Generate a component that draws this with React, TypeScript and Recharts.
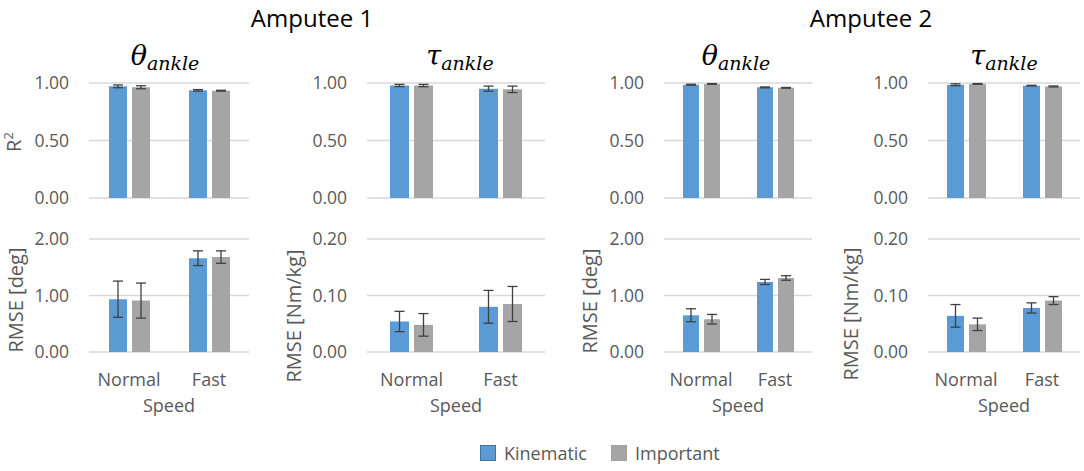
import React from "react";
import { BarChart, Bar, XAxis, YAxis, CartesianGrid, ErrorBar } from "recharts";

const BLUE = "#5b9bd5";
const GRAY = "#a5a5a5";
const TEXT = "#595959";
const FONT = "'Open Sans', sans-serif";

const speeds = ["Normal", "Fast"];

// R² (top row), [Normal, Fast]
const a1ThetaR2Kin = [0.971, 0.936];
const a1ThetaR2KinErr = [0.012, 0.007];
const a1ThetaR2Imp = [0.963, 0.933];
const a1ThetaR2ImpErr = [0.013, 0.004];

const a1TauR2Kin = [0.978, 0.951];
const a1TauR2KinErr = [0.01, 0.022];
const a1TauR2Imp = [0.978, 0.945];
const a1TauR2ImpErr = [0.01, 0.028];

const a2ThetaR2Kin = [0.985, 0.962];
const a2ThetaR2KinErr = [0.004, 0.004];
const a2ThetaR2Imp = [0.992, 0.958];
const a2ThetaR2ImpErr = [0.003, 0.003];

const a2TauR2Kin = [0.985, 0.977];
const a2TauR2KinErr = [0.008, 0.003];
const a2TauR2Imp = [0.992, 0.97];
const a2TauR2ImpErr = [0.003, 0.004];

// RMSE (bottom row)
const a1ThetaRmseKin = [0.935, 1.66];
const a1ThetaRmseKinErr = [0.32, 0.13];
const a1ThetaRmseImp = [0.91, 1.68];
const a1ThetaRmseImpErr = [0.31, 0.11];

const a1TauRmseKin = [0.054, 0.08];
const a1TauRmseKinErr = [0.018, 0.029];
const a1TauRmseImp = [0.048, 0.085];
const a1TauRmseImpErr = [0.02, 0.031];

const a2ThetaRmseKin = [0.65, 1.24];
const a2ThetaRmseKinErr = [0.115, 0.045];
const a2ThetaRmseImp = [0.58, 1.31];
const a2ThetaRmseImpErr = [0.085, 0.04];

const a2TauRmseKin = [0.064, 0.078];
const a2TauRmseKinErr = [0.02, 0.009];
const a2TauRmseImp = [0.049, 0.091];
const a2TauRmseImpErr = [0.011, 0.007];

const r2Ticks = [0, 0.5, 1];
const degTicks = [0, 1, 2];
const nmTicks = [0, 0.1, 0.2];

const rows = (kin: number[], kinErr: number[], imp: number[], impErr: number[]) =>
  speeds.map((speed, j) => ({ speed, kin: kin[j], kinErr: kinErr[j], imp: imp[j], impErr: impErr[j] }));

const Y_W = 60;
const PAD = 16;

function Panel({ plotLeft, plotRight, plotTop, plotBottom, data, ticks, barSize, showX }: any) {
  const plotW = plotRight - plotLeft;
  const plotH = plotBottom - plotTop;
  const xH = 50;
  return (
    <div style={{ position: "absolute", left: plotLeft - Y_W, top: plotTop - PAD }}>
      <BarChart
        width={plotW + Y_W}
        height={plotH + PAD + (showX ? xH : PAD)}
        data={data}
        margin={{ top: PAD, right: 0, bottom: showX ? 0 : PAD, left: 0 }}
        barSize={barSize}
        barGap={5}
        style={{ overflow: "visible" }}
      >
        <CartesianGrid vertical={false} stroke="#d9d9d9" strokeWidth={1.3} />
        <XAxis
          dataKey="speed"
          hide={!showX}
          height={xH}
          axisLine={false}
          tickLine={false}
          tickMargin={15}
          tick={{ fontSize: 18, fill: TEXT, fontFamily: FONT }}
        />
        <YAxis
          width={Y_W}
          domain={[ticks[0], ticks[ticks.length - 1]]}
          ticks={ticks}
          interval={0}
          axisLine={false}
          tickLine={false}
          tickMargin={14}
          tickFormatter={(v: number) => v.toFixed(2)}
          tick={{ fontSize: 17.5, fill: TEXT, fontFamily: FONT }}
        />
        <Bar dataKey="kin" fill={BLUE} isAnimationActive={false}>
          <ErrorBar dataKey="kinErr" width={5} stroke="#404040" strokeWidth={1.3} />
        </Bar>
        <Bar dataKey="imp" fill={GRAY} isAnimationActive={false}>
          <ErrorBar dataKey="impErr" width={5} stroke="#404040" strokeWidth={1.3} />
        </Bar>
      </BarChart>
    </div>
  );
}

function Txt({ x, y, size, children, rotate, color, style }: any) {
  return (
    <div
      style={{
        position: "absolute",
        left: x,
        top: y,
        transform: `translate(-50%, -50%)${rotate ? " rotate(-90deg)" : ""}`,
        whiteSpace: "nowrap",
        fontFamily: FONT,
        fontSize: size,
        color: color || TEXT,
        lineHeight: 1,
        ...style,
      }}
    >
      {children}
    </div>
  );
}

function MathTitle({ x, sym }: { x: number; sym: string }) {
  return (
    <Txt x={x} y={55} size={27} color="#000" style={{ fontFamily: "'DejaVu Serif', serif", fontStyle: "italic" }}>
      {sym}
      <span style={{ fontSize: 19, position: "relative", top: 5 }}>ankle</span>
    </Txt>
  );
}

const cols = [
  { l: 89, r: 249 },
  { l: 367, r: 545 },
  { l: 664, r: 812 },
  { l: 928, r: 1080 },
];
const barSizes = [18, 19, 16, 17];

export default function App() {
  const top = [
    rows(a1ThetaR2Kin, a1ThetaR2KinErr, a1ThetaR2Imp, a1ThetaR2ImpErr),
    rows(a1TauR2Kin, a1TauR2KinErr, a1TauR2Imp, a1TauR2ImpErr),
    rows(a2ThetaR2Kin, a2ThetaR2KinErr, a2ThetaR2Imp, a2ThetaR2ImpErr),
    rows(a2TauR2Kin, a2TauR2KinErr, a2TauR2Imp, a2TauR2ImpErr),
  ];
  const bottom = [
    rows(a1ThetaRmseKin, a1ThetaRmseKinErr, a1ThetaRmseImp, a1ThetaRmseImpErr),
    rows(a1TauRmseKin, a1TauRmseKinErr, a1TauRmseImp, a1TauRmseImpErr),
    rows(a2ThetaRmseKin, a2ThetaRmseKinErr, a2ThetaRmseImp, a2ThetaRmseImpErr),
    rows(a2TauRmseKin, a2TauRmseKinErr, a2TauRmseImp, a2TauRmseImpErr),
  ];
  const bottomTicks = [degTicks, nmTicks, degTicks, nmTicks];

  return (
    <div style={{ position: "absolute", left: 0, top: 0, width: 1084, height: 471, background: "#fff", overflow: "hidden" }}>
      <Txt x={312} y={18} size={24} color="#000">Amputee 1</Txt>
      <Txt x={871} y={18} size={24} color="#000">Amputee 2</Txt>
      <MathTitle x={165} sym="θ" />
      <MathTitle x={460} sym="τ" />
      <MathTitle x={736} sym="θ" />
      <MathTitle x={1004} sym="τ" />

      {cols.map((c, i) => (
        <Panel key={"t" + i} plotLeft={c.l} plotRight={c.r} plotTop={83} plotBottom={198} data={top[i]} ticks={r2Ticks} barSize={barSizes[i]} showX={false} />
      ))}
      {cols.map((c, i) => (
        <Panel key={"b" + i} plotLeft={c.l} plotRight={c.r} plotTop={239} plotBottom={352} data={bottom[i]} ticks={bottomTicks[i]} barSize={barSizes[i]} showX={true} />
      ))}

      <Txt x={13} y={142} size={20} rotate>
        R<sup style={{ fontSize: 13 }}>2</sup>
      </Txt>
      <Txt x={16} y={300} size={20} rotate>RMSE [deg]</Txt>
      <Txt x={294} y={316} size={20} rotate>RMSE [Nm/kg]</Txt>
      <Txt x={590} y={301} size={20} rotate>RMSE [deg]</Txt>
      <Txt x={851} y={314} size={20} rotate>RMSE [Nm/kg]</Txt>

      {cols.map((c, i) => (
        <Txt key={"s" + i} x={(c.l + c.r) / 2} y={405} size={18}>Speed</Txt>
      ))}

      <div style={{ position: "absolute", left: 480, top: 441, display: "flex", alignItems: "center", fontFamily: FONT, fontSize: 18, color: TEXT }}>
        <span style={{ width: 14, height: 14, background: BLUE, border: "1px solid #41719c", display: "inline-block" }} />
        <span style={{ marginLeft: 8 }}>Kinematic</span>
        <span style={{ width: 14, height: 14, background: GRAY, border: "1px solid #a0a0a0", display: "inline-block", marginLeft: 24 }} />
        <span style={{ marginLeft: 8 }}>Important</span>
      </div>
    </div>
  );
}
